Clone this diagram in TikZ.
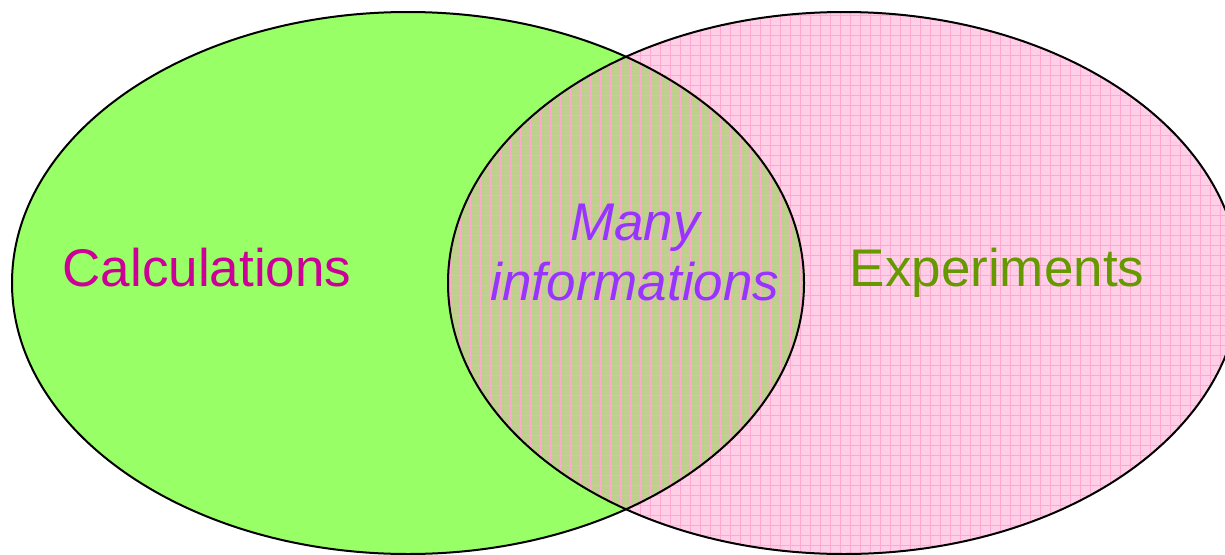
\documentclass[tikz,border=0pt]{standalone}
\usepackage{fontspec}
\setmainfont{Liberation Sans}
\definecolor{calcgreen}{HTML}{99FF66}
\definecolor{exppink}{HTML}{FFCFE8}
\definecolor{overlap}{HTML}{BFD08E}
\definecolor{gridpink}{HTML}{FFA8D2}
\definecolor{calctext}{HTML}{CC0099}
\definecolor{exptext}{HTML}{669900}
\definecolor{infotext}{HTML}{9933FF}
\tikzset{
  outline/.style={draw=black, line width=2pt},
  gridlines/.style={draw=gridpink, line width=1pt},
  label/.style={inner sep=0pt, anchor=base, font=\fontsize{53}{60}\selectfont},
}
\begin{document}
\begin{tikzpicture}[x=1pt,y=-1pt]
  \useasboundingbox (0,0) rectangle (1225,554);
  \clip (0,0) rectangle (1225,554);
  \def\leftell{(408,283) ellipse [x radius=396pt, y radius=271pt]}
  \def\rightell{(844,283) ellipse [x radius=396pt, y radius=271pt]}
  % set fills
  \fill[calcgreen] \leftell;
  \fill[exppink] \rightell;
  \begin{scope}
    \clip \leftell;
    \fill[overlap] \rightell;
  \end{scope}
  % hatched grid of the experiments set
  \begin{scope}
    \clip \rightell;
    \foreach \x in {440,450,...,1240} \draw[gridlines] (\x,0) -- (\x,554);
    \foreach \y in {5,15,...,555} \draw[gridlines] (440,\y) -- (1240,\y);
  \end{scope}
  % outlines
  \draw[outline] \leftell;
  \draw[outline] \rightell;
  % labels
  \node[label, text=calctext] (calc) at (207,286) {Calculations};
  \node[label, text=exptext] (expt) at (997,286) {Experiments};
  \node[label, text=infotext, font=\fontsize{53}{60}\selectfont\itshape] (many) at (635,240) {Many};
  \node[label, text=infotext, font=\fontsize{53}{60}\selectfont\itshape] (info) at (635,300) {informations};
\end{tikzpicture}
\end{document}
